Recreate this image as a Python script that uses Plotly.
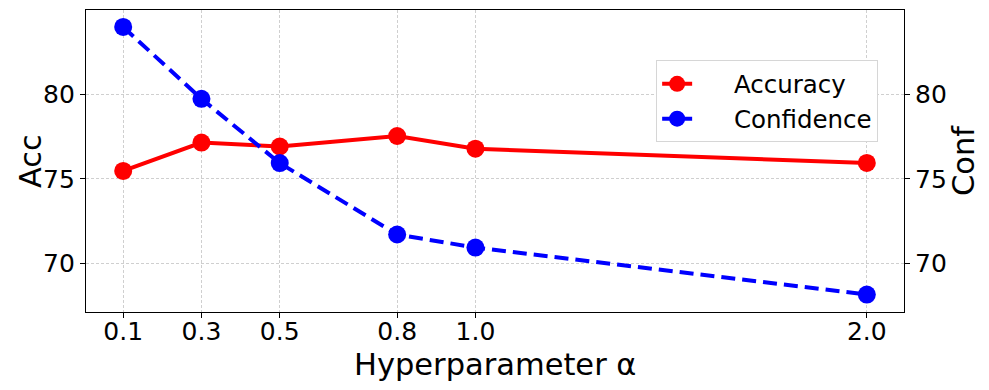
import plotly.graph_objects as go

alpha = [0.1, 0.3, 0.5, 0.8, 1.0, 2.0]
accuracy = [75.47, 77.14, 76.91, 77.53, 76.78, 75.94]
confidence = [83.96, 79.72, 75.93, 71.72, 70.95, 68.18]
tick_labels = ["0.1", "0.3", "0.5", "0.8", "1.0", "2.0"]
y_ticks = [70, 75, 80]

font = "DejaVu Sans"
yr = [67.15, 84.96]
pad = "\u2002\u2002\u2002"  # widen the gap between legend symbol and text

# page body has an 8px margin, so the figure is a bit smaller than the window
W, H = 981, 382
ml, mr, mt, mb = 78, 85, 2, 78
off = 8

fig = go.Figure()
fig.add_trace(go.Scatter(x=alpha, y=accuracy, name=pad + "Accuracy", mode="lines+markers",
                         line=dict(color="red", width=4),
                         marker=dict(color="red", size=18)))
fig.add_trace(go.Scatter(x=alpha, y=confidence, name=pad + "Confidence", mode="lines+markers",
                         line=dict(color="blue", width=4, dash="14px,7px"),
                         marker=dict(color="blue", size=18), yaxis="y2"))

grid = dict(showgrid=True, gridcolor="#cfcfcf", griddash="3px,2px", gridwidth=0.7)
frame = dict(ticks="outside", ticklen=5, tickcolor="black", tickwidth=1.2,
             showline=True, linecolor="black", linewidth=1.2, zeroline=False,
             automargin=False, tickfont=dict(size=25))

fig.update_layout(
    width=W, height=H,
    margin=dict(l=ml, r=mr, t=mt, b=mb),
    plot_bgcolor="white", paper_bgcolor="white",
    font=dict(family=font, size=25, color="black"),
    xaxis=dict(range=[0.005, 2.095], tickvals=alpha, ticktext=tick_labels,
               mirror=True, ticklabelstandoff=-8, **grid, **frame),
    yaxis=dict(range=yr, tickvals=y_ticks, **grid, **frame),
    yaxis2=dict(range=yr, tickvals=y_ticks, overlaying="y", side="right",
                showgrid=False, **frame),
    legend=dict(x=0.697, y=0.833, xanchor="left", yanchor="top",
                bgcolor="white", bordercolor="#d6d6d6", borderwidth=1,
                font=dict(size=24.5)),
    showlegend=True,
)

pw, ph = W - ml - mr, H - mt - mb


def px_to_paper(x, y):
    # screenshot pixel -> paper coords
    return (x - off - ml) / pw, (H - mb - (y - off)) / ph


# axis titles placed as annotations, like matplotlib labels
for text, x, y, ang in [("Hyperparameter α", 495, 364, 0),
                        ("Acc", 30, 161, -90),
                        ("Conf", 963, 161, -90)]:
    px_, py_ = px_to_paper(x, y)
    fig.add_annotation(text=text, x=px_, y=py_, xref="paper", yref="paper",
                       showarrow=False, textangle=ang, font=dict(size=30.5),
                       xanchor="center", yanchor="middle")

fig.write_html("out.html")
